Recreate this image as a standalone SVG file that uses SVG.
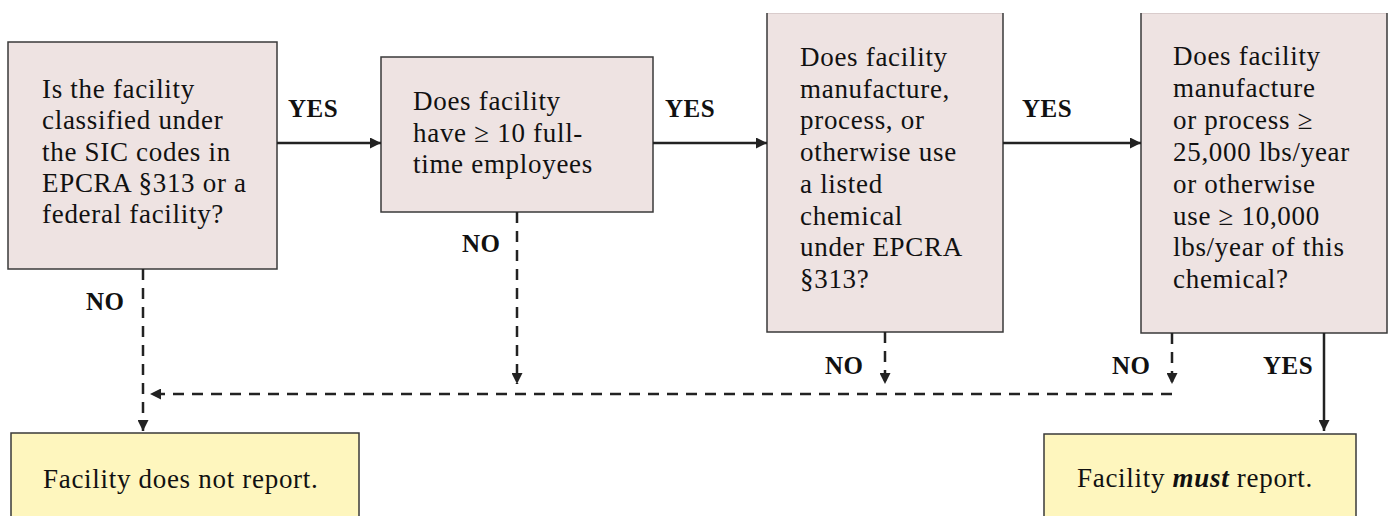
<svg xmlns="http://www.w3.org/2000/svg" width="1388" height="516" viewBox="0 0 1388 516">
<style>
.q{fill:#EEE3E2;stroke:#3a3a3a;stroke-width:1.5}
.qf{fill:#EEE3E2;stroke:none}
.qe{fill:none;stroke:#3a3a3a;stroke-width:1.5}
.qt{fill:none;stroke:#d9cccc;stroke-width:1}
.r{fill:#FEF6BE;stroke:#3a3a3a;stroke-width:1.5}
.t{font-family:"Liberation Serif","Times New Roman",serif;font-size:27px;fill:#111;letter-spacing:0.7px}
.l{font-family:"Liberation Serif","Times New Roman",serif;font-size:25px;font-weight:bold;fill:#111;letter-spacing:0.5px}
.s{stroke:#222;stroke-width:2.5;fill:none}
.d{stroke:#222;stroke-width:2.5;fill:none;stroke-dasharray:11 8}
</style>
<defs>
<marker id="ah" viewBox="0 0 10 10" markerUnits="userSpaceOnUse" markerWidth="11" markerHeight="11" refX="10" refY="5" orient="auto">
<path d="M0,0 L10,5 L0,10 z" fill="#222"/>
</marker>
</defs>
<rect width="1388" height="516" fill="#fff"/>
<g id="node-sic">
<rect class="q" x="8" y="42" width="269" height="227"/>
<text class="t"><tspan x="42" y="98">Is the facility</tspan><tspan x="42" dy="31.3">classified under</tspan><tspan x="42" dy="31.3">the SIC codes in</tspan><tspan x="42" dy="31.3">EPCRA §313 or a</tspan><tspan x="42" dy="31.3">federal facility?</tspan></text>
</g>
<g id="node-employees">
<rect class="q" x="381" y="57" width="272" height="155"/>
<text class="t"><tspan x="413" y="110">Does facility</tspan><tspan x="413" dy="31.6">have ≥ 10 full-</tspan><tspan x="413" dy="31.6">time employees</tspan></text>
</g>
<g id="node-chemical">
<rect class="qf" x="767" y="13" width="236" height="319"/>
<line class="qt" x1="767" y1="13.5" x2="1003" y2="13.5"/>
<path class="qe" d="M767,13 V332 H1003 V13"/>
<text class="t"><tspan x="800" y="66">Does facility</tspan><tspan x="800" dy="31.7">manufacture,</tspan><tspan x="800" dy="31.7">process, or</tspan><tspan x="800" dy="31.7">otherwise use</tspan><tspan x="800" dy="31.7">a listed</tspan><tspan x="800" dy="31.7">chemical</tspan><tspan x="800" dy="31.7">under EPCRA</tspan><tspan x="800" dy="31.7">§313?</tspan></text>
</g>
<g id="node-threshold">
<rect class="qf" x="1141" y="13" width="246" height="320"/>
<line class="qt" x1="1141" y1="13.5" x2="1387" y2="13.5"/>
<path class="qe" d="M1141,13 V333 H1387 V13"/>
<text class="t"><tspan x="1173" y="65">Does facility</tspan><tspan x="1173" dy="31.9">manufacture</tspan><tspan x="1173" dy="31.9">or process ≥</tspan><tspan x="1173" dy="31.9">25,000 lbs/year</tspan><tspan x="1173" dy="31.9">or otherwise</tspan><tspan x="1173" dy="31.9">use ≥ 10,000</tspan><tspan x="1173" dy="31.9">lbs/year of this</tspan><tspan x="1173" dy="31.9">chemical?</tspan></text>
</g>
<g id="node-no-report">
<rect class="r" x="11" y="433" width="348" height="90"/>
<text class="t" x="43" y="488">Facility does not report.</text>
</g>
<g id="node-must-report">
<rect class="r" x="1044" y="434" width="312" height="90"/>
<text class="t" x="1077" y="487">Facility <tspan font-weight="bold" font-style="italic">must</tspan> report.</text>
</g>
<g id="connectors">
<line class="s" x1="277" y1="143" x2="381" y2="143" marker-end="url(#ah)"/>
<line class="s" x1="653" y1="143" x2="767" y2="143" marker-end="url(#ah)"/>
<line class="s" x1="1003" y1="143" x2="1141" y2="143" marker-end="url(#ah)"/>
<line class="s" x1="1324" y1="333" x2="1324" y2="431" marker-end="url(#ah)"/>
<line class="d" x1="143" y1="269" x2="143" y2="431" marker-end="url(#ah)"/>
<line class="d" x1="517" y1="212" x2="517" y2="384" marker-end="url(#ah)"/>
<line class="d" x1="885" y1="332" x2="885" y2="384" marker-end="url(#ah)"/>
<line class="d" x1="1172" y1="333" x2="1172" y2="384" marker-end="url(#ah)"/>
<line class="d" x1="1172" y1="394" x2="150" y2="394" marker-end="url(#ah)"/>
<text class="l" x="288" y="117">YES</text>
<text class="l" x="665" y="117">YES</text>
<text class="l" x="1022" y="117">YES</text>
<text class="l" x="1263" y="374">YES</text>
<text class="l" x="86" y="310">NO</text>
<text class="l" x="462" y="252">NO</text>
<text class="l" x="825" y="374">NO</text>
<text class="l" x="1112" y="374">NO</text>
</g>
</svg>
